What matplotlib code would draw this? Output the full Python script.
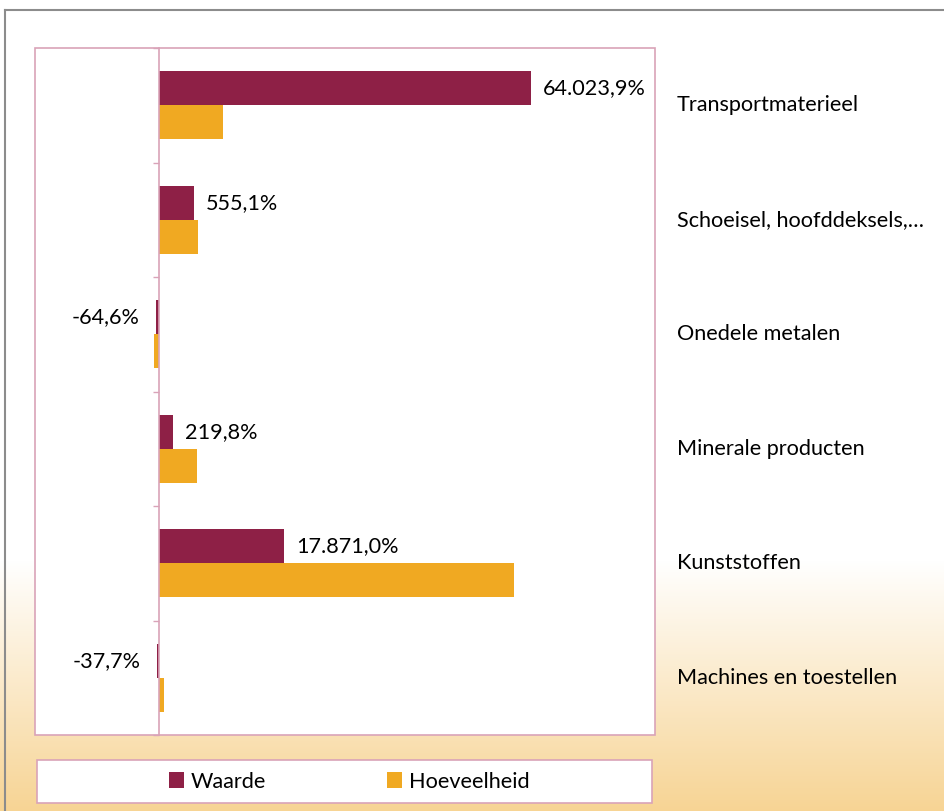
import numpy as np
import matplotlib.pyplot as plt
from matplotlib.patches import Rectangle
from matplotlib.lines import Line2D
from matplotlib.transforms import blended_transform_factory

plt.rcParams['font.family'] = ['Lato', 'DejaVu Sans']

# Data (top to bottom as shown)
categories = ['Transportmaterieel', 'Schoeisel, hoofddeksels,…', 'Onedele metalen',
              'Minerale producten', 'Kunststoffen', 'Machines en toestellen']
# bar lengths as drawn in the original chart (relative scale)
waarde = [60000, 5650, -500, 2260, 20160, -350]
hoeveelheid = [10300, 6300, -750, 6130, 57260, 800]
# data labels printed on the Waarde bars
waarde_labels = ['64.023,9%', '555,1%', '-64,6%', '219,8%', '17.871,0%', '-37,7%']

c_waarde = '#8E2046'
c_hoev = '#F0A922'
c_pink = '#D9A3B8'
fs = 15.6

W, H = 944, 811
fig = plt.figure(figsize=(W / 100, H / 100), dpi=100)

# background gradient (white -> light orange at bottom)
bg = fig.add_axes([0, 0, 1, 1], zorder=-10)
rows = np.arange(H)
t = np.clip((rows - 560) / (H - 560), 0, 1) ** 1.0
top = np.array([1.0, 1.0, 1.0])
bottom = np.array([247, 212, 148]) / 255
grad = top[None, :] * (1 - t[:, None]) + bottom[None, :] * t[:, None]
bg.imshow(np.repeat(grad[:, None, :], 4, axis=1), aspect='auto', extent=[0, 1, 0, 1])
bg.set_axis_off()

# outer gray frame
fig.add_artist(Line2D([5 / W, 1], [1 - 10 / H, 1 - 10 / H], color='#8C8C8C', lw=1.5))
fig.add_artist(Line2D([5 / W, 5 / W], [0, 1 - 10 / H], color='#8C8C8C', lw=1.5))

ax = fig.add_axes([35 / W, 1 - 735 / H, 620 / W, 687 / H])
ax.set_facecolor('white')

y = np.arange(len(categories))
h = 0.295
ax.barh(y - h / 2, waarde, height=h, color=c_waarde, label='Waarde')
ax.barh(y + h / 2, hoeveelheid, height=h, color=c_hoev, label='Hoeveelheid')

ax.set_xlim(-20000, 80000)
ax.set_ylim(len(categories) - 0.5, -0.5)

for yi, v, lab in zip(y, waarde, waarde_labels):
    if v >= 0:
        ax.annotate(lab, (v, yi - h / 2), xytext=(8.5, 0), textcoords='offset points',
                    ha='left', va='center', fontsize=fs)
    else:
        ax.annotate(lab, (v, yi - h / 2), xytext=(-11.5, 0), textcoords='offset points',
                    ha='right', va='center', fontsize=fs)

# category labels to the right of the plot area
tr = blended_transform_factory(ax.transAxes, ax.transData)
for yi, cat in zip(y, categories):
    ax.text(1.035, yi, cat, transform=tr, ha='left', va='center', fontsize=fs)

# zero axis with ticks at category boundaries
for s in ['top', 'right', 'bottom']:
    ax.spines[s].set_visible(False)
ax.spines['left'].set_position(('data', 0))
ax.spines['left'].set_color(c_pink)
ax.spines['left'].set_linewidth(1.2)
ax.set_yticks(np.arange(-0.5, len(categories), 1.0))
ax.set_yticklabels([])
ax.tick_params(axis='y', direction='out', length=4.5, color=c_pink, width=1.0)
ax.set_xticks([])

ax.add_patch(Rectangle((0, 0), 1, 1, transform=ax.transAxes, fill=False,
                       edgecolor=c_pink, lw=1.2, clip_on=False, zorder=5))

# legend box
fig.add_artist(Rectangle((37 / W, 1 - 803 / H), 615 / W, 43 / H, transform=fig.transFigure,
                         facecolor='white', edgecolor=c_pink, lw=1.2, zorder=1))
handles, labels = ax.get_legend_handles_labels()
leg = fig.legend(handles, labels, loc='center', bbox_to_anchor=(349 / W, 1 - 781.5 / H),
                 ncol=2, frameon=False, fontsize=fs, handlelength=0.7, handleheight=0.7,
                 handletextpad=0.3, columnspacing=5.6)
leg.set_zorder(2)

fig.savefig('out.png', dpi=100)
